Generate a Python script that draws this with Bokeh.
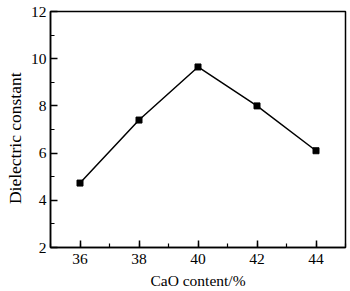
from bokeh.plotting import figure
from bokeh.models import SingleIntervalTicker, Range1d
from bokeh.embed import file_html
from bokeh.resources import INLINE

cao = [36, 38, 40, 42, 44]
dielectric = [4.73, 7.4, 9.65, 8.0, 6.1]

p = figure(width=350, height=291, output_backend="svg", toolbar_location=None,
           x_range=Range1d(35, 45), y_range=Range1d(2, 12),
           min_border_left=50, min_border_right=5, min_border_top=11, min_border_bottom=44)
p.background_fill_color = "white"
p.border_fill_color = "white"
p.outline_line_color = "black"
p.outline_line_width = 1.5
p.xgrid.visible = False
p.ygrid.visible = False

p.line(cao, dielectric, line_color="black", line_width=1.5)
p.scatter(cao, dielectric, marker="square", size=6, color="black")

font = "Liberation Serif"
for ax in (p.xaxis[0], p.yaxis[0]):
    ax.axis_line_color = "black"
    ax.axis_line_width = 1.5
    ax.major_tick_in = 7
    ax.major_tick_out = 0
    ax.minor_tick_in = 4
    ax.minor_tick_out = 0
    ax.major_tick_line_width = 1.5
    ax.minor_tick_line_width = 1.2
    ax.major_tick_line_color = "black"
    ax.minor_tick_line_color = "black"
    ax.major_label_text_font = font
    ax.major_label_text_font_size = "15.5px"
    ax.major_label_text_color = "black"
    ax.axis_label_text_font = font
    ax.axis_label_text_font_style = "normal"
    ax.axis_label_text_color = "black"

p.xaxis.ticker = SingleIntervalTicker(interval=2, num_minor_ticks=2)
p.yaxis.ticker = SingleIntervalTicker(interval=2, num_minor_ticks=2)
p.xaxis.axis_label = "CaO content/%"
p.xaxis.axis_label_text_font_size = "15.5px"
p.yaxis.axis_label = "Dielectric constant" + "\u00a0" * 4
p.yaxis.axis_label_text_font_size = "17.5px"
p.xaxis.major_label_standoff = 6
p.yaxis.major_label_standoff = 4
p.xaxis.axis_label_standoff = 5
p.yaxis.axis_label_standoff = 3

open("out.html", "w").write(file_html(p, INLINE))
